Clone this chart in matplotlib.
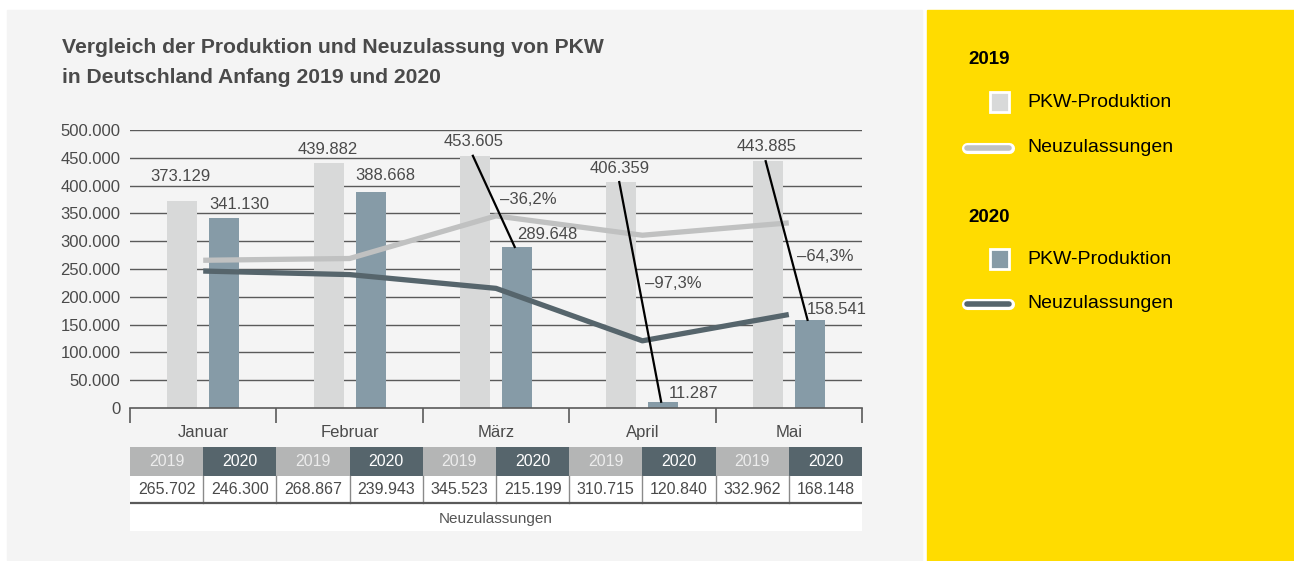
import matplotlib
matplotlib.use("Agg")
import matplotlib.pyplot as plt
from matplotlib.patches import Rectangle
from matplotlib.lines import Line2D

plt.rcParams['font.family'] = ['Liberation Sans', 'DejaVu Sans']

# Daten
months = ["Januar", "Februar", "März", "April", "Mai"]
prod_2019 = [373129, 439882, 453605, 406359, 443885]
prod_2020 = [341130, 388668, 289648, 11287, 158541]
neu_2019 = [265702, 268867, 345523, 310715, 332962]
neu_2020 = [246300, 239943, 215199, 120840, 168148]
change_labels = ["", "", "–36,2%", "–97,3%", "–64,3%"]
years = ["2019", "2020"]

# Farben
C_PANEL = "#f4f4f4"
C_YELLOW = "#ffdc00"
C_BAR19 = "#d8d9d9"
C_BAR20 = "#869ba7"
C_LINE19 = "#c0c1c1"
C_LINE20 = "#56656c"
C_TEXT = "#4a4a4a"
C_GRID = "#5a5a5a"

W, H = 1294, 561


def fx(x):
    return x / W


def fy(y):
    return 1 - y / H


def fmt(v):
    return f"{v:,.0f}".replace(",", ".")


fig = plt.figure(figsize=(W / 100, H / 100), dpi=100)
fig.patch.set_facecolor("white")

# Hintergründe
fig.patches.append(Rectangle((fx(7), fy(560)), fx(922 - 7), (560 - 10) / H,
                             transform=fig.transFigure, color=C_PANEL, zorder=-2))
fig.patches.append(Rectangle((fx(927), fy(561)), fx(1294 - 927), (561 - 10) / H,
                             transform=fig.transFigure, color=C_YELLOW, zorder=-2))

# Titel
fig.text(fx(62), fy(53), "Vergleich der Produktion und Neuzulassung von PKW",
         fontsize=15.2, fontweight="bold", color=C_TEXT, va="baseline")
fig.text(fx(62), fy(83), "in Deutschland Anfang 2019 und 2020",
         fontsize=15.2, fontweight="bold", color=C_TEXT, va="baseline")

# Diagramm
ax = fig.add_axes([fx(130), fy(408), fx(862 - 130), (408 - 130) / H])
ax.set_zorder(2)
ax.set_facecolor("none")
ax.set_xlim(0, 5)
ax.set_ylim(0, 500000)
for s in ["top", "right", "left"]:
    ax.spines[s].set_visible(False)
ax.spines["bottom"].set_color(C_GRID)
ax.spines["bottom"].set_linewidth(1.2)

yt = list(range(0, 500001, 50000))
ax.set_yticks(yt)
ax.set_yticklabels([fmt(v) for v in yt], fontsize=12, color=C_TEXT)
ax.tick_params(axis="y", length=0, pad=7)
for v in yt[1:]:
    ax.axhline(v, color=C_GRID, lw=1.0, zorder=1)

ax.set_xticks(range(6))
ax.set_xticklabels([])
ax.tick_params(axis="x", which="major", length=11, width=1.2, color=C_GRID, direction="out")
centers = [i + 0.5 for i in range(len(months))]
ax.set_xticks(centers, minor=True)
ax.set_xticklabels(months, minor=True, fontsize=12, color=C_TEXT)
ax.tick_params(axis="x", which="minor", length=0, pad=12.5)

off, bw = 0.143, 0.205
x19 = [c - off for c in centers]
x20 = [c + off for c in centers]
ax.bar(x19, prod_2019, width=bw, color=C_BAR19, zorder=2)
ax.bar(x20, prod_2020, width=bw, color=C_BAR20, zorder=2)

ax.plot(centers, neu_2019, color=C_LINE19, lw=3.8, zorder=3, solid_capstyle="butt")
ax.plot(centers, neu_2020, color=C_LINE20, lw=3.8, zorder=3, solid_capstyle="butt")

# Beschriftungen 2019 (über den Balken)
dy19 = [24, 14, 14, 14, 15]
for x, v, d in zip(x19, prod_2019, dy19):
    ax.annotate(fmt(v), (x, v), xytext=(-1, d * 0.72), textcoords="offset points",
                ha="center", va="center", fontsize=12, color=C_TEXT, zorder=6,
                annotation_clip=False)

# Beschriftungen 2020
dx20 = [-15, -15, 0, 5, -3]
dy20 = [14, 16, 12, 8, 10]
for x, v, dx, d in zip(x20, prod_2020, dx20, dy20):
    ax.annotate(fmt(v), (x, v), xytext=(dx * 0.72, d * 0.72), textcoords="offset points",
                ha="left", va="center", fontsize=12, color=C_TEXT, zorder=6,
                annotation_clip=False)

# Verbindungslinien mit Veränderung
pct_t = [0.5, 0.5, 0.48, 0.46, 0.6]
pct_dx = [5, 5, 5, 4, 4]
for i, lab in enumerate(change_labels):
    if not lab:
        continue
    ax.plot([x19[i] - 0.015, x20[i] - 0.015], [prod_2019[i], prod_2020[i]],
            color="black", lw=1.6, zorder=5)
    t = pct_t[i]
    px = x19[i] + t * (x20[i] - x19[i])
    py = prod_2019[i] + t * (prod_2020[i] - prod_2019[i])
    ax.annotate(lab, (px, py), xytext=(pct_dx[i] * 0.72, 0), textcoords="offset points",
                ha="left", va="center", fontsize=12, color=C_TEXT, zorder=6)

# Tabelle Neuzulassungen
tab = fig.add_axes([fx(130), fy(531), fx(862 - 130), (531 - 447) / H])
tab.set_zorder(2)
tab.set_xlim(0, 10)
tab.set_ylim(3, 0)
tab.axis("off")
vals = []
for a, b in zip(neu_2019, neu_2020):
    vals += [a, b]
for j in range(10):
    yr = years[j % 2]
    head_c = "#b4b5b5" if yr == "2019" else C_LINE20
    head_t = "#ececec" if yr == "2019" else "white"
    tab.add_patch(Rectangle((j, 0), 1, 1.03, color=head_c, lw=0))
    tab.text(j + 0.5, 0.52, yr, ha="center", va="center", fontsize=11.5, color=head_t)
    tab.add_patch(Rectangle((j, 1.03), 1, 1.97, color="white", lw=0))
    tab.text(j + 0.5, 1.5, fmt(vals[j]), ha="center", va="center", fontsize=11.5, color=C_TEXT)
    if j > 0:
        tab.plot([j, j], [1.03, 2.0], color="#8a8a8a", lw=1.0)
tab.plot([0, 10], [2.0, 2.0], color=C_GRID, lw=1.6)
tab.text(5, 2.58, "Neuzulassungen", ha="center", va="center", fontsize=11, color="#555555")

# Legende (gelber Bereich)
fig.text(fx(968), fy(64), "2019", fontsize=13.5, fontweight="bold", color="black", va="baseline")
fig.text(fx(968), fy(222), "2020", fontsize=13.5, fontweight="bold", color="black", va="baseline")
leg_items = [(102, "bar", C_BAR19), (148, "line", C_LINE19),
             (259, "bar", C_BAR20), (304, "line", C_LINE20)]
for yc, kind, col in leg_items:
    if kind == "bar":
        fig.patches.append(Rectangle((fx(990), fy(yc + 10)), fx(19), 20 / H,
                                     transform=fig.transFigure, facecolor=col,
                                     edgecolor="white", lw=2, zorder=3))
        lab = "PKW-Produktion"
    else:
        fig.lines.append(Line2D([fx(967), fx(1009)], [fy(yc), fy(yc)], transform=fig.transFigure,
                                color="white", lw=8, solid_capstyle="round", zorder=3))
        fig.lines.append(Line2D([fx(967), fx(1009)], [fy(yc), fy(yc)], transform=fig.transFigure,
                                color=col, lw=4, solid_capstyle="round", zorder=4))
        lab = "Neuzulassungen"
    fig.text(fx(1027), fy(yc), lab, fontsize=14, color="black", va="center")

fig.savefig("out.png", dpi=100, facecolor=fig.get_facecolor())
